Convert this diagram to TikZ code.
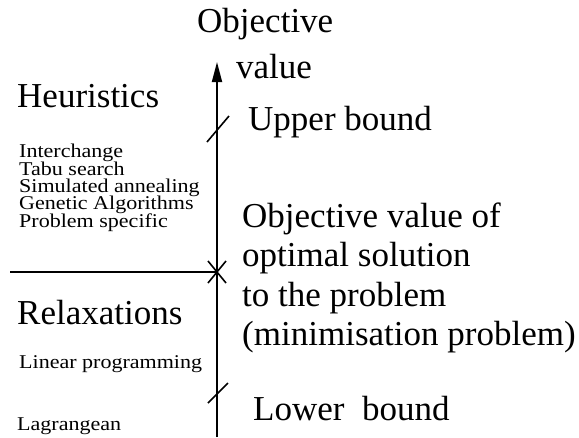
\documentclass[tikz,border=0pt]{standalone}
\usepackage{fontspec}
\setmainfont{Liberation Serif}
\newfontfamily\widefam[FakeStretch=1.13]{Liberation Serif}
\usetikzlibrary{arrows.meta}

\newcommand\listfont{\widefam\fontsize{19.5}{17.3}\selectfont\lineskiplimit=-50pt\relax}

\begin{document}
\begin{tikzpicture}[x=1pt,y=-1pt,
    big/.style={anchor=base west,inner sep=0pt,font=\fontsize{35}{39}\selectfont},
    small/.style={anchor=base west,inner sep=0pt,font=\listfont},
    tickline/.style={line width=1.6pt}]
    \useasboundingbox (0,0) rectangle (579,437);
    % axis
    \coordinate (bot) at (217,437);
    \coordinate (top) at (217,62);
    \coordinate (ub) at (218,129);
    \coordinate (opt) at (217,272);
    \coordinate (lb) at (218,393);
    \coordinate (left) at (10,272);
    \draw[line width=1.8pt,-{Triangle[length=20pt,width=10pt]}] (bot) -- (top);
    \draw[line width=1.6pt] (left) -- (opt);
    \draw[tickline] (ub) +(-11,13) -- +(11,-13);
    \draw[tickline] (lb) +(-10,10) -- +(10,-10);
    \draw[tickline] (opt) +(-9,-11) -- +(9,11);
    \draw[tickline] (opt) +(-9,11) -- +(9,-11);
    % axis labels
    \node[big] (obj) at (197,32) {Objective};
    \node[big] (val) at (236,78) {value};
    \node[big] (upper) at (248,130) {Upper bound};
    \node[big] (lower) at (253,420) {Lower\ \ bound};
    \foreach \txt [count=\i] in {Objective value of,optimal solution,to the problem,(minimisation problem)}
        \node[big] (opt\i) at (242,{227+39.5*(\i-1)}) {\txt};
    % left side
    \node[big] (heur) at (17,107) {Heuristics};
    \node[small,align=left] (heurlist) at (19,227) {Interchange\\Tabu search\\Simulated annealing\\Genetic Algorithms\\Problem specific};
    \node[big] (relax) at (17,324) {Relaxations};
    \node[small] (lp) at (19,368) {Linear programming};
    \node[small] (lag) at (17,430) {Lagrangean};
\end{tikzpicture}
\end{document}
